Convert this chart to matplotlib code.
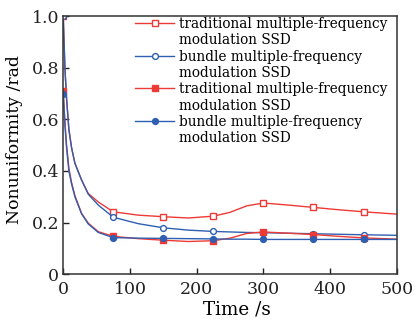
import matplotlib
matplotlib.use("Agg")
import matplotlib.pyplot as plt
from matplotlib.lines import Line2D

# time samples
t = [0, 2.5, 5, 8.5, 12.5, 17.5, 27.5, 37.5, 52.5, 75, 112.5, 150, 187.5, 225,
     250, 275, 300, 337.5, 375, 412.5, 450, 500]
marker_t = [0, 75, 150, 225, 300, 375, 450]

trad_open = [1.0, 0.80, 0.68, 0.56, 0.49, 0.43, 0.365, 0.313, 0.28, 0.242, 0.229, 0.223,
             0.218, 0.225, 0.240, 0.265, 0.276, 0.268, 0.259, 0.250, 0.242, 0.233]
bund_open = [1.0, 0.80, 0.68, 0.56, 0.49, 0.43, 0.365, 0.31, 0.268, 0.221, 0.196, 0.180,
             0.171, 0.166, 0.164, 0.162, 0.161, 0.159, 0.157, 0.155, 0.153, 0.151]
trad_fill = [0.71, 0.59, 0.50, 0.41, 0.355, 0.305, 0.236, 0.198, 0.165, 0.147, 0.138, 0.132,
             0.127, 0.130, 0.140, 0.158, 0.164, 0.159, 0.154, 0.147, 0.141, 0.136]
bund_fill = [0.70, 0.58, 0.49, 0.40, 0.35, 0.30, 0.234, 0.195, 0.162, 0.142, 0.140, 0.139,
             0.138, 0.137, 0.136, 0.136, 0.135, 0.135, 0.135, 0.135, 0.135, 0.135]

labels = ["traditional multiple-frequency", "bundle multiple-frequency",
          "traditional multiple-frequency", "bundle multiple-frequency"]
label2 = "modulation SSD"

xticks = [0, 100, 200, 300, 400, 500]
yticks = [0, 0.2, 0.4, 0.6, 0.8, 1.0]
ytick_labels = ["0", "0.2", "0.4", "0.6", "0.8", "1.0"]

RED = "#ee3a36"
BLUE = "#2f5fb0"

plt.rcParams['font.family'] = ['DejaVu Serif']

fig = plt.figure(figsize=(4.16, 3.21), dpi=100)
ax = fig.add_axes([0.152, 0.1455, 0.802, 0.8045])

mev = [t.index(m) for m in marker_t]
series = [
    (trad_open, RED, 's', 'white'),
    (bund_open, BLUE, 'o', 'white'),
    (trad_fill, RED, 's', RED),
    (bund_fill, BLUE, 'o', BLUE),
]
handles = []
for (y, c, m, fc) in series:
    ax.plot(t, y, color=c, lw=1.0, marker=m, markersize=4.2, markerfacecolor=fc,
            markeredgecolor=c, markeredgewidth=1.0, markevery=mev)
    handles.append(Line2D([], [], color=c, lw=1.0, marker=m, markersize=4.2,
                          markerfacecolor=fc, markeredgecolor=c, markeredgewidth=1.0))

blank = Line2D([], [], linestyle='none', marker=None)
leg_handles = []
leg_labels = []
for h, l in zip(handles, labels):
    leg_handles += [h, blank]
    leg_labels += [l, label2]

ax.legend(leg_handles, leg_labels, loc='upper left', bbox_to_anchor=(135 / 416, 1 - 17 / 321),
          bbox_transform=fig.transFigure, frameon=False, fontsize=9.8, borderpad=0,
          borderaxespad=0, handlelength=2.9, handletextpad=0.35, labelspacing=0.17)

ax.set_xlim(0, 500)
ax.set_ylim(0, 1.0)
ax.set_xticks(xticks)
ax.set_yticks(yticks)
ax.set_yticklabels(ytick_labels)
ax.tick_params(direction='in', length=4, width=1.0, labelsize=12.5, top=False, right=False,
               colors='#222222')
ax.tick_params(axis='y', pad=3)
ax.tick_params(axis='x', pad=5)
for s in ax.spines.values():
    s.set_linewidth(1.1)
    s.set_color('#333333')

ax.set_xlabel("Time /s", fontsize=13.2, labelpad=0)
ax.xaxis.set_label_coords(0.52, -0.1)
ax.set_ylabel("Nonuniformity /rad", fontsize=12.4)
ax.yaxis.set_label_coords(-0.121, 0.52)

fig.savefig("out.png", dpi=100)
